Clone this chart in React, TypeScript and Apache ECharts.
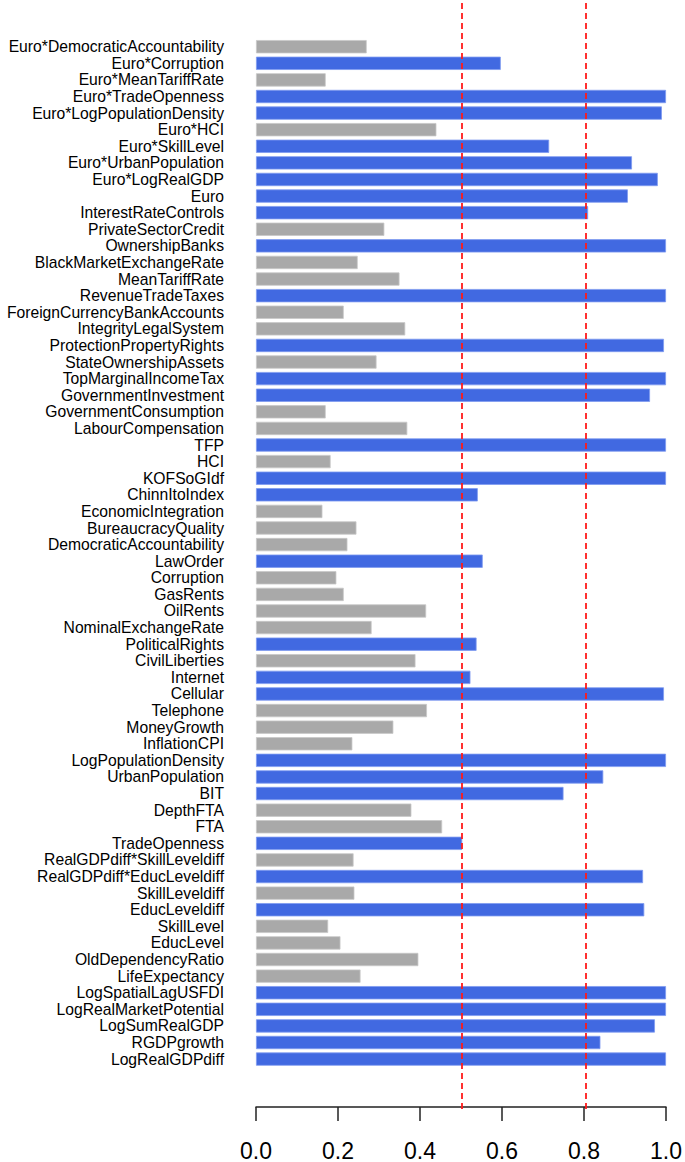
import React, { useEffect, useRef } from "react";
import * as echarts from "echarts";

const categories = [
  "Euro*DemocraticAccountability",
  "Euro*Corruption",
  "Euro*MeanTariffRate",
  "Euro*TradeOpenness",
  "Euro*LogPopulationDensity",
  "Euro*HCI",
  "Euro*SkillLevel",
  "Euro*UrbanPopulation",
  "Euro*LogRealGDP",
  "Euro",
  "InterestRateControls",
  "PrivateSectorCredit",
  "OwnershipBanks",
  "BlackMarketExchangeRate",
  "MeanTariffRate",
  "RevenueTradeTaxes",
  "ForeignCurrencyBankAccounts",
  "IntegrityLegalSystem",
  "ProtectionPropertyRights",
  "StateOwnershipAssets",
  "TopMarginalIncomeTax",
  "GovernmentInvestment",
  "GovernmentConsumption",
  "LabourCompensation",
  "TFP",
  "HCI",
  "KOFSoGIdf",
  "ChinnItoIndex",
  "EconomicIntegration",
  "BureaucracyQuality",
  "DemocraticAccountability",
  "LawOrder",
  "Corruption",
  "GasRents",
  "OilRents",
  "NominalExchangeRate",
  "PoliticalRights",
  "CivilLiberties",
  "Internet",
  "Cellular",
  "Telephone",
  "MoneyGrowth",
  "InflationCPI",
  "LogPopulationDensity",
  "UrbanPopulation",
  "BIT",
  "DepthFTA",
  "FTA",
  "TradeOpenness",
  "RealGDPdiff*SkillLeveldiff",
  "RealGDPdiff*EducLeveldiff",
  "SkillLeveldiff",
  "EducLeveldiff",
  "SkillLevel",
  "EducLevel",
  "OldDependencyRatio",
  "LifeExpectancy",
  "LogSpatialLagUSFDI",
  "LogRealMarketPotential",
  "LogSumRealGDP",
  "RGDPgrowth",
  "LogRealGDPdiff",
];

const inclusionProbability = [
  0.27, 0.597, 0.17, 1.0, 0.99, 0.44, 0.715, 0.917, 0.98, 0.907,
  0.81, 0.313, 1.0, 0.248, 0.35, 1.0, 0.214, 0.364, 0.995, 0.294,
  1.0, 0.961, 0.17, 0.369, 1.0, 0.182, 1.0, 0.541, 0.162, 0.245,
  0.223, 0.553, 0.196, 0.214, 0.415, 0.282, 0.538, 0.389, 0.523, 0.995,
  0.417, 0.335, 0.235, 1.0, 0.847, 0.75, 0.379, 0.454, 0.503, 0.238,
  0.944, 0.24, 0.947, 0.176, 0.206, 0.396, 0.255, 1.0, 1.0, 0.973,
  0.84, 1.0,
];

const highlightThreshold = 0.5;
const referenceLines = [0.5, 0.8];
const axisMin = 0;
const axisMax = 1;
const axisInterval = 0.2;

const BLUE = "#4169E1";
const GRAY = "#A9A9A9";

export default function App() {
  const ref = useRef<HTMLDivElement>(null);

  useEffect(() => {
    if (!ref.current) return;
    const chart = echarts.init(ref.current, null, { renderer: "svg" });
    const gridLeft = 256;
    const gridWidth = 412.3;
    const gridTop = 38.4;
    const gridHeight = 1031;
    const axisLineY = 1109;

    chart.setOption({
      animation: false,
      backgroundColor: "#ffffff",
      grid: [
        { left: gridLeft, top: gridTop, width: gridWidth, height: gridHeight },
        { left: gridLeft, top: 0, width: gridWidth, height: axisLineY },
      ],
      xAxis: [
        {
          type: "value",
          gridIndex: 0,
          min: axisMin,
          max: axisMax,
          interval: axisInterval,
          position: "bottom",
          offset: axisLineY - (gridTop + gridHeight),
          splitLine: { show: false },
          axisLine: { show: true, lineStyle: { color: "#222", width: 1.5 } },
          axisTick: { show: true, inside: false, length: 14, lineStyle: { color: "#222", width: 1.5 } },
          axisLabel: {
            margin: 32,
            fontSize: 23,
            color: "#000",
            fontFamily: "Liberation Sans",
            formatter: (v: number) => v.toFixed(1),
          },
        },
        {
          type: "value",
          gridIndex: 1,
          min: axisMin,
          max: axisMax,
          show: false,
        },
      ],
      yAxis: [
        {
          type: "category",
          gridIndex: 0,
          data: categories,
          inverse: true,
          axisLine: { show: false },
          axisTick: { show: false },
          splitLine: { show: false },
          axisLabel: {
            interval: 0,
            margin: 32,
            fontSize: 15.7,
            color: "#000",
            fontFamily: "Liberation Sans",
          },
        },
        {
          type: "value",
          gridIndex: 1,
          min: 0,
          max: 1,
          show: false,
        },
      ],
      series: [
        {
          type: "bar",
          xAxisIndex: 0,
          yAxisIndex: 0,
          barCategoryGap: "20%",
          data: inclusionProbability.map((v) => ({
            value: v,
            itemStyle: {
              color: v > highlightThreshold ? BLUE : GRAY,
              borderColor: v > highlightThreshold ? "#7f9bf0" : "#c8c8c8",
              borderWidth: 0.8,
            },
          })),
        },
        {
          type: "line",
          xAxisIndex: 1,
          yAxisIndex: 1,
          data: [],
          silent: true,
          markLine: {
            silent: true,
            symbol: "none",
            label: { show: false },
            lineStyle: { color: "#ff1a1a", type: [6, 4], width: 1.8 },
            data: referenceLines.map((x) => ({ xAxis: x })),
          },
        },
      ],
    });
    return () => chart.dispose();
  }, []);

  return (
    <div
      ref={ref}
      style={{ position: "absolute", left: 0, top: 0, width: 685, height: 1162 }}
    />
  );
}
